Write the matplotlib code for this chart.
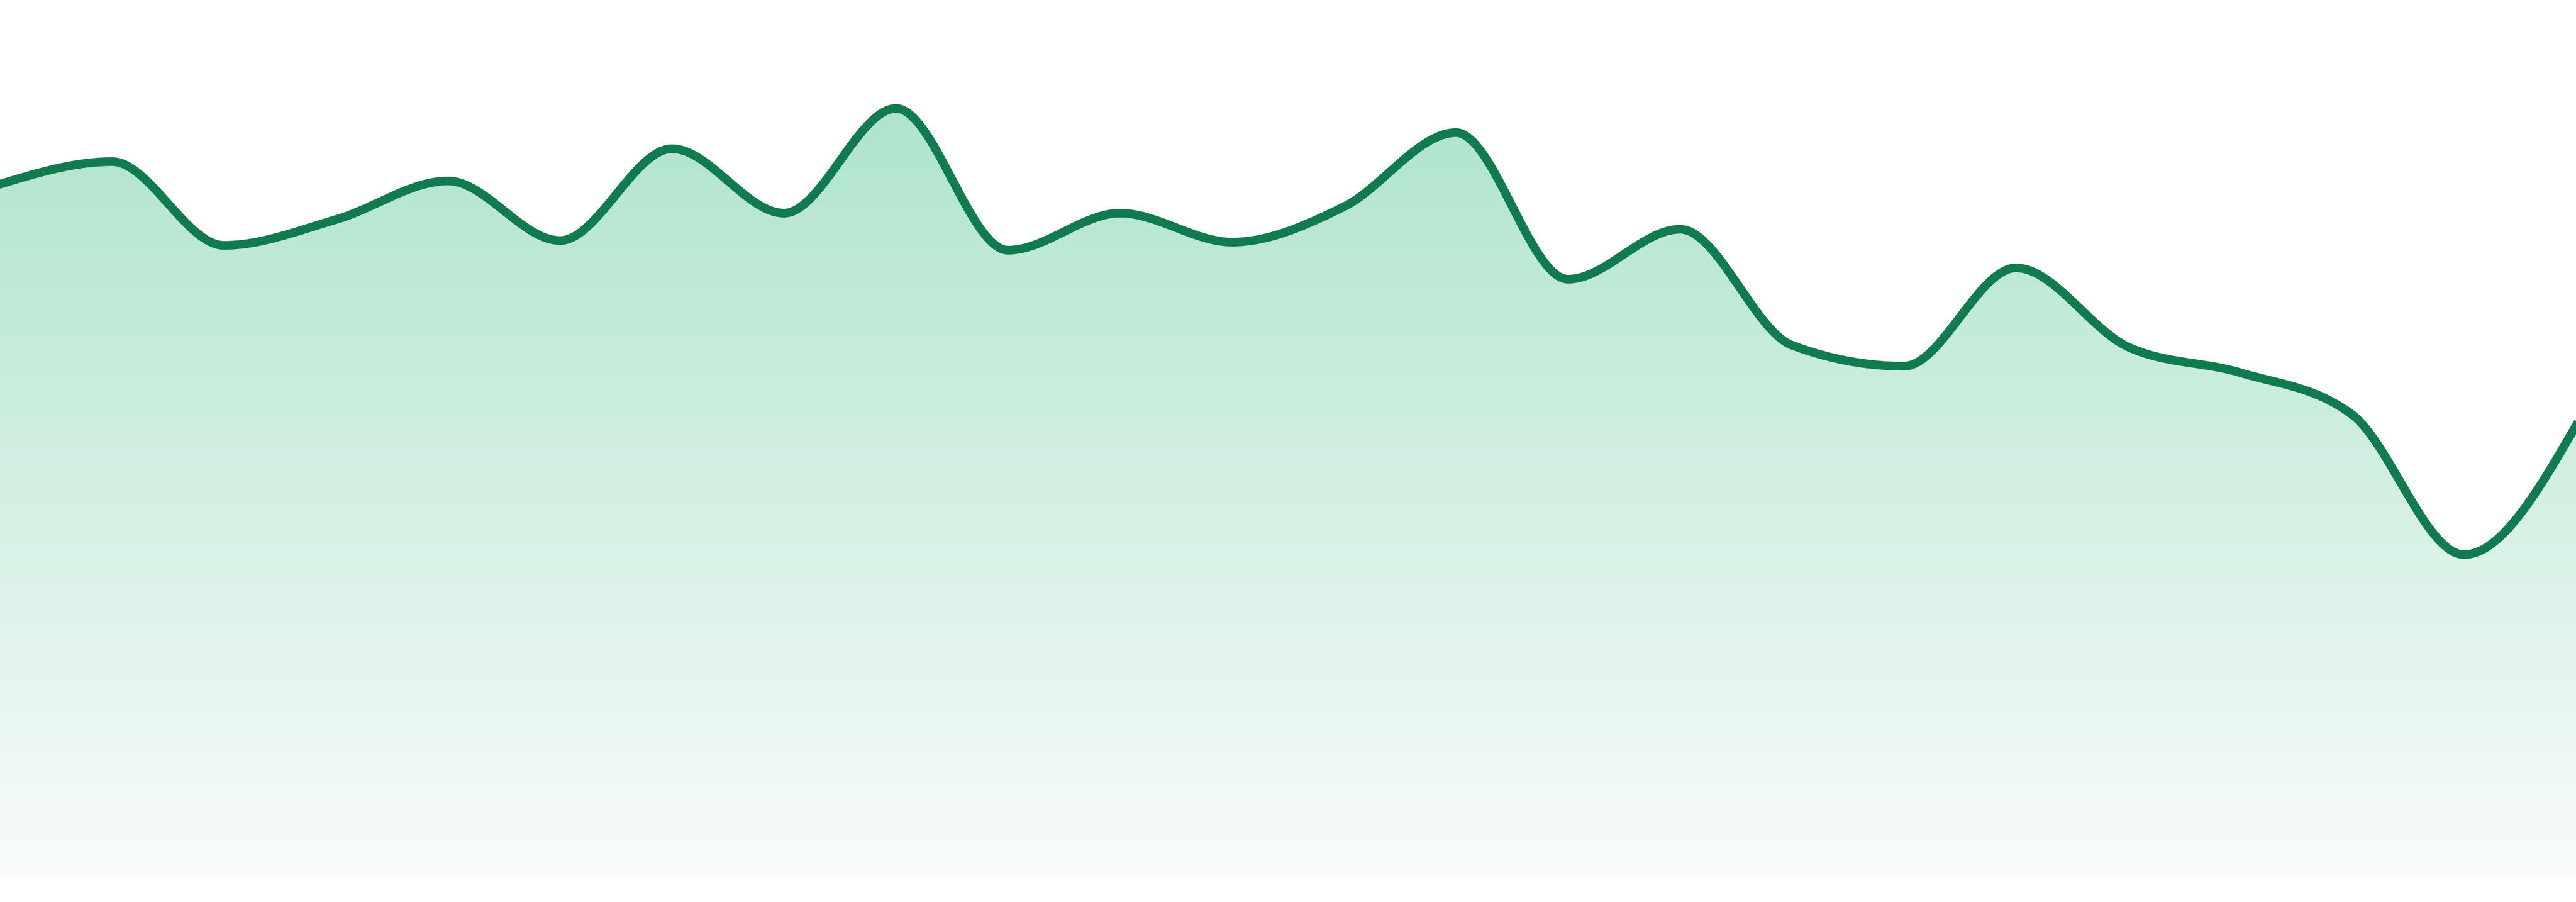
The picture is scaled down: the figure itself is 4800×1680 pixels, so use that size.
import numpy as np
import matplotlib
matplotlib.use("Agg")
import matplotlib.pyplot as plt
from matplotlib.colors import LinearSegmentedColormap
from matplotlib.patches import Polygon

# one value per step
values = [430, 444, 392, 408, 432, 395, 452, 412, 477, 389, 412, 394,
          416, 462, 371, 402, 330, 317, 378, 329, 313, 287, 200, 280]
steps = list(range(len(values)))

line_color = "#117b50"
fill_top = "#afe4cd"
fill_bottom = "#f9fcfa"


def monotone_tangents(xs, ys):
    # same rule as d3 curveMonotoneX
    n = len(xs)
    t = np.zeros(n)
    for i in range(1, n - 1):
        h0 = xs[i] - xs[i - 1]
        h1 = xs[i + 1] - xs[i]
        s0 = (ys[i] - ys[i - 1]) / h0
        s1 = (ys[i + 1] - ys[i]) / h1
        p = (s0 * h1 + s1 * h0) / (h0 + h1)
        sg = (1 if s0 >= 0 else -1) + (1 if s1 >= 0 else -1)
        t[i] = sg * min(abs(s0), abs(s1), 0.5 * abs(p))
    t[0] = (3 * (ys[1] - ys[0]) / (xs[1] - xs[0]) - t[1]) / 2
    t[-1] = (3 * (ys[-1] - ys[-2]) / (xs[-1] - xs[-2]) - t[-2]) / 2
    return t


def smooth(xs, ys, n=80):
    xs = np.asarray(xs, float)
    ys = np.asarray(ys, float)
    t = monotone_tangents(xs, ys)
    ox, oy = [], []
    u = np.linspace(0, 1, n)
    h00 = 2 * u**3 - 3 * u**2 + 1
    h10 = u**3 - 2 * u**2 + u
    h01 = -2 * u**3 + 3 * u**2
    h11 = u**3 - u**2
    for i in range(len(xs) - 1):
        h = xs[i + 1] - xs[i]
        ox.append(xs[i] + u * h)
        oy.append(h00 * ys[i] + h10 * h * t[i] + h01 * ys[i + 1] + h11 * h * t[i + 1])
    return np.concatenate(ox), np.concatenate(oy)


xx, yy = smooth(steps, values)

fig = plt.figure(figsize=(48, 16.8), dpi=100)
ax = fig.add_axes([0, 47 / 1680, 1, 1633 / 1680])
ax.set_xlim(0, steps[-1])
ax.set_ylim(0, 1633 / 3)
ax.axis("off")

verts = np.column_stack([np.r_[xx, xx[-1], xx[0]], np.r_[yy, 0, 0]])
area = Polygon(verts, closed=True, facecolor="none", edgecolor="none")
ax.add_patch(area)

cmap = LinearSegmentedColormap.from_list("fade", [fill_bottom, fill_top])
grad = np.linspace(0, 1, 512).reshape(-1, 1)
im = ax.imshow(grad, extent=[0, steps[-1], 0, max(values)], origin="lower",
               cmap=cmap, aspect="auto", interpolation="bilinear", zorder=1)
im.set_clip_path(area)

ax.plot(xx, yy, color=line_color, lw=11.6, solid_joinstyle="round", zorder=2)

fig.savefig("out.png", dpi=100, facecolor="white")
